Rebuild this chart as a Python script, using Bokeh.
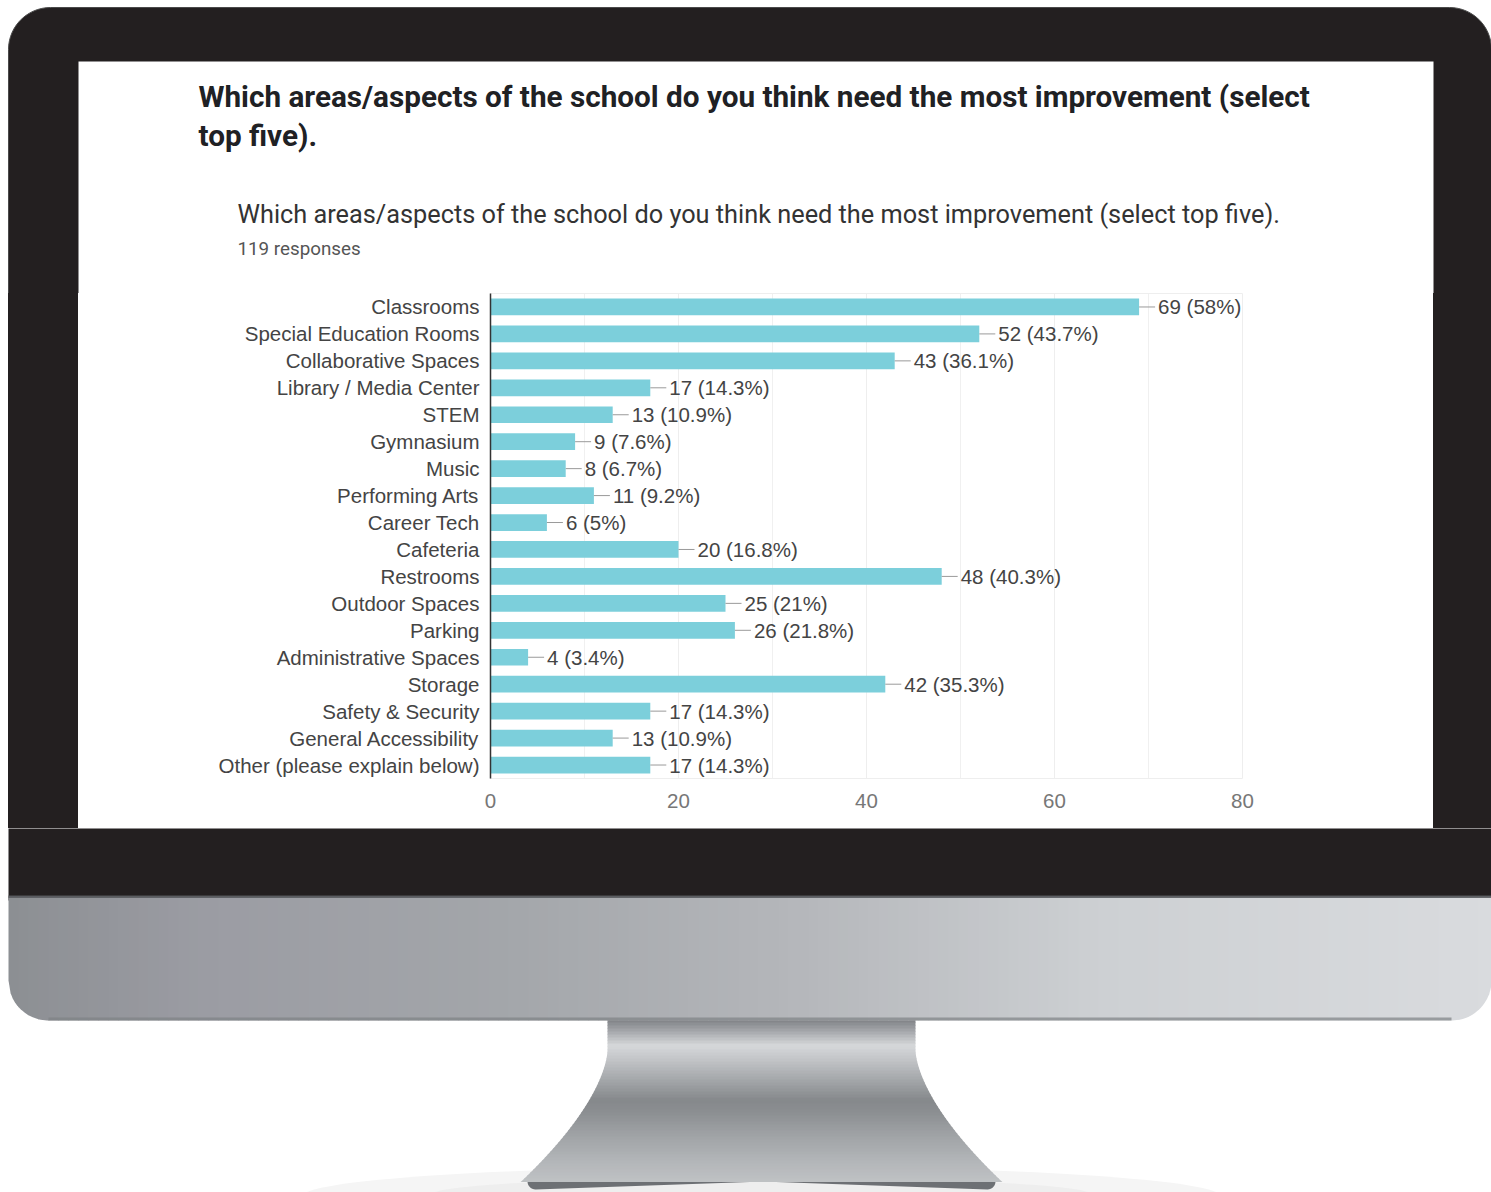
import numpy as np
from bokeh.plotting import figure
from bokeh.models import ColumnDataSource, FactorRange, FixedTicker, Range1d, Spacer
from bokeh.layouts import column, row
from bokeh.core.properties import value
from bokeh.embed import file_html
from bokeh.resources import INLINE

# ---------------- data ----------------
categories = ["Classrooms", "Special Education Rooms", "Collaborative Spaces",
              "Library / Media Center", "STEM", "Gymnasium", "Music", "Performing Arts",
              "Career Tech", "Cafeteria", "Restrooms", "Outdoor Spaces", "Parking",
              "Administrative Spaces", "Storage", "Safety & Security",
              "General Accessibility", "Other (please explain below)"]
counts = [69, 52, 43, 17, 13, 9, 8, 11, 6, 20, 48, 25, 26, 4, 42, 17, 13, 17]
percents = [58, 43.7, 36.1, 14.3, 10.9, 7.6, 6.7, 9.2, 5, 16.8, 40.3, 21, 21.8, 3.4, 35.3, 14.3, 10.9, 14.3]
x_ticks = [0, 20, 40, 60, 80]
x_minor = [10, 30, 50, 70]
page_title = "Which areas/aspects of the school do you think need the most improvement (select"
page_title2 = "top five)."
chart_title = "Which areas/aspects of the school do you think need the most improvement (select top five)."
responses = "119 responses"

labels = [f"{c} ({p:g}%)" for c, p in zip(counts, percents)]
src = ColumnDataSource(dict(cat=categories, val=counts, lab=labels))

FONT = "Liberation Sans"
BEZEL = "#231f20"

# page geometry (px)
PW, PH = 1491, 1192
SCR_L, SCR_R, SCR_T, SCR_B = 78, 1433, 61, 828
FR_L, FR_R, FR_T, FR_B = 490, 1242, 293, 778
EDGE = 8


def hex2rgb(h):
    h = h.lstrip("#")
    return np.array([int(h[i:i + 2], 16) for i in (0, 2, 4)], dtype=float)


def grad(stops, t):
    pos = [s[0] for s in stops]
    cols = np.array([hex2rgb(s[1]) for s in stops])
    c = [np.interp(t, pos, cols[:, k]) for k in range(3)]
    return "#%02x%02x%02x" % tuple(int(round(v)) for v in c)


def arc(cx, cy, r, a0, a1, n=16):
    th = np.linspace(a0, a1, n)
    return list(cx + r * np.cos(th)), list(cy + r * np.sin(th))


def deco(x0, x1, y0, y1, fill="white"):
    f = figure(width=x1 - x0, height=y1 - y0, title=None,
               x_range=Range1d(x0, x1), y_range=Range1d(y1, y0),
               x_axis_location=None, y_axis_location=None,
               toolbar_location=None, output_backend="svg", min_border=0)
    f.grid.visible = False
    f.outline_line_color = None
    f.background_fill_color = fill
    f.border_fill_color = fill
    return f


# ---------------- top strip: bezel + headings ----------------
top = deco(0, PW, 0, FR_T)
bx, by = [], []
a, b = arc(EDGE + 42, 7 + 42, 42, np.pi, 1.5 * np.pi); bx += a; by += b
a, b = arc(PW - 42, 7 + 42, 42, 1.5 * np.pi, 2 * np.pi); bx += a; by += b
bx += [PW, EDGE]; by += [FR_T + 20, FR_T + 20]
top.patch(bx, by, fill_color=BEZEL, line_color="#4a4a4a", line_width=1)
top.quad(left=SCR_L, right=SCR_R, top=SCR_T, bottom=FR_T + 20, fill_color="white",
         line_color=None)
top.text(x=[198], y=[96], text=[page_title], text_font=value("Roboto"),
         text_font_style="bold", text_font_size="29.7px", text_color="#202124",
         text_baseline="middle")
top.text(x=[198], y=[135], text=[page_title2], text_font=value("Roboto"),
         text_font_style="bold", text_font_size="29.7px", text_color="#202124",
         text_baseline="middle")
top.text(x=[237], y=[214], text=[chart_title], text_font=value("Roboto"),
         text_font_size="25.3px", text_color="#333333", text_baseline="middle")
top.text(x=[237], y=[248], text=[responses], text_font=value("Roboto"),
         text_font_size="18.8px", text_color="#555555", text_baseline="middle")

# ---------------- side strips (plain blocks of bezel colour) ----------------
CH = SCR_B - FR_T
left_gap = Spacer(width=EDGE, height=CH)
left_strip = Spacer(width=SCR_L - EDGE, height=CH,
                    styles={"background-color": BEZEL})
right_strip = Spacer(width=PW - SCR_R, height=CH,
                     styles={"background-color": BEZEL})

# ---------------- chart ----------------
CW = SCR_R - SCR_L
p = figure(width=CW, height=CH, title=None, output_backend="svg", toolbar_location=None,
           y_range=FactorRange(factors=categories[::-1], range_padding=0),
           x_range=(0, 80), min_border_left=FR_L - SCR_L, min_border_right=SCR_R - FR_R,
           min_border_top=0, min_border_bottom=SCR_B - FR_B)
p.border_fill_color = "white"
p.background_fill_color = "white"
p.outline_line_color = "#eeeeee"

p.hbar(y="cat", right="val", left=0, height=0.62, source=src,
       fill_color="#7ccfdb", line_color=None)
p.ray(x="val", y="cat", length=16, length_units="screen", angle=0, source=src,
      line_color="#9a9a9a", line_width=1)
p.text(x="val", y="cat", text="lab", source=src, x_offset=19, text_baseline="middle",
       text_align="left", text_font_size="20.5px", text_color="#444444",
       text_font=value(FONT))

p.xaxis.ticker = FixedTicker(ticks=x_ticks, minor_ticks=x_minor)
p.xaxis.axis_line_color = None
p.xaxis.major_tick_line_color = None
p.xaxis.minor_tick_line_color = None
p.xaxis.major_label_text_font = FONT
p.xaxis.major_label_text_font_size = "20.5px"
p.xaxis.major_label_text_color = "#777777"
p.xaxis.major_label_standoff = 9

p.yaxis.axis_line_color = "#333333"
p.yaxis.axis_line_width = 1.5
p.yaxis.major_tick_line_color = None
p.yaxis.minor_tick_line_color = None
p.yaxis.major_tick_out = 0
p.yaxis.major_label_text_font = FONT
p.yaxis.major_label_text_font_size = "20.5px"
p.yaxis.major_label_text_color = "#444444"
p.yaxis.major_label_standoff = 11

p.ygrid.grid_line_color = None
p.xgrid.grid_line_color = "#eeeeee"
p.xgrid.minor_grid_line_color = "#f0f0f0"

# ---------------- bottom: bezel, chin, stand ----------------
bot = deco(0, PW, SCR_B, PH)

# floor shadow (very faint)
bot.ellipse(x=[761], y=[1196], width=[920], height=[60], fill_color="#f5f5f5",
            line_color=None)
bot.ellipse(x=[761], y=[1194], width=[660], height=[34], fill_color="#eeeeee",
            line_color=None)

# stand lip
lx, ly = [], []
a, b = arc(535, 1181, 8, 0.5 * np.pi, 1.5 * np.pi); lx += a[::-1]; ly += b[::-1]
a, b = arc(987, 1181, 8, -0.5 * np.pi, 0.5 * np.pi); lx += a; ly += b
bot.patch(lx, ly, fill_color="#6d7074", line_color=None)


def half_w(y):
    return 154 + 80 * (max(y - 1050, 0) / 125.0) ** 1.6


stand_stops = [(1016, "#75787c"), (1028, "#9c9ea2"), (1045, "#d6d8da"), (1058, "#c4c6c9"),
               (1080, "#a3a6a9"), (1100, "#85888b"), (1112, "#8c8f92"), (1140, "#a4a7aa"),
               (1165, "#b5b8bb"), (1182, "#c0c2c4")]
sxs, sys, scol = [], [], []
for y0 in np.arange(1016, 1181, 3):
    y1 = y0 + 3.6
    sxs.append([761 - half_w(y0), 761 + half_w(y0), 761 + half_w(y1), 761 - half_w(y1)])
    sys.append([y0, y0, y1, y1])
    scol.append(grad(stand_stops, y0 + 1.5))
bot.patches(xs=sxs, ys=sys, fill_color=scol, line_color=None)

# black bezel bottom band
bot.quad(left=EDGE, right=PW + 2, top=SCR_B - 2, bottom=900, fill_color=BEZEL, line_color=None)

# chin with horizontal gradient and rounded bottom corners
chin_stops = [(8, "#8c8f93"), (200, "#9b9ca3"), (500, "#a3a6aa"), (800, "#b5b7bb"),
              (1100, "#cdd0d3"), (1491, "#d9dbde")]
CL, CR, CT, CB, CRAD = EDGE, PW, 896, 1020, 40


def chin_bottom(x):
    if x < CL + CRAD:
        d = CL + CRAD - x
        return CB - CRAD + np.sqrt(max(CRAD ** 2 - d ** 2, 0))
    if x > CR - CRAD:
        d = x - (CR - CRAD)
        return CB - CRAD + np.sqrt(max(CRAD ** 2 - d ** 2, 0))
    return CB


cxs, cys, ccol = [], [], []
edges = list(np.arange(CL, CR, 10)) + [CR]
for x0, x1 in zip(edges[:-1], edges[1:]):
    x1e = min(x1 + 0.6, CR)
    xs_s = list(np.linspace(x1e, x0, 6))
    cxs.append([x0, x1e] + xs_s)
    cys.append([CT, CT] + [chin_bottom(x) for x in xs_s])
    ccol.append(grad(chin_stops, (x0 + x1) / 2))
bot.patches(xs=cxs, ys=cys, fill_color=ccol, line_color=None)
# chin bottom edge and seam
bot.quad(left=CL + CRAD, right=CR - CRAD, top=CB - 3, bottom=CB, fill_color="#7e8185",
         fill_alpha=0.7, line_color=None)
bot.quad(left=EDGE, right=PW + 2, top=895, bottom=897.5, fill_color="#5a5c60", fill_alpha=0.9,
         line_color=None)

layout = column(top, row(left_gap, left_strip, p, right_strip), bot)
open("out.html", "w").write(file_html(layout, INLINE))
